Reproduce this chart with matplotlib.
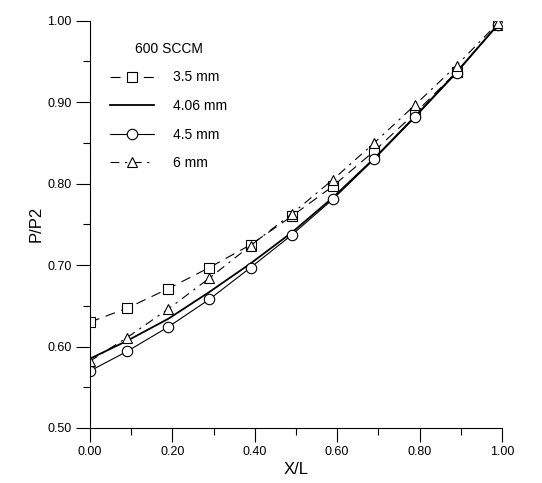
import matplotlib
matplotlib.use('Agg')
import matplotlib.pyplot as plt
from matplotlib.ticker import MultipleLocator, FormatStrFormatter

plt.rcParams['font.family'] = ['Liberation Sans', 'DejaVu Sans']

# 数据 (读取自原图)
x = [0.0, 0.09, 0.19, 0.29, 0.39, 0.49, 0.59, 0.69, 0.79, 0.89, 0.99]
p_35 = [0.630, 0.647, 0.671, 0.697, 0.725, 0.760, 0.797, 0.840, 0.887, 0.937, 0.995]
p_406 = [0.585, 0.607, 0.634, 0.667, 0.702, 0.740, 0.783, 0.831, 0.883, 0.937, 0.995]
p_45 = [0.570, 0.594, 0.624, 0.658, 0.697, 0.737, 0.781, 0.830, 0.882, 0.936, 0.995]
p_6 = [0.582, 0.611, 0.646, 0.684, 0.724, 0.763, 0.805, 0.850, 0.897, 0.945, 0.997]
labels = ['3.5 mm', '4.06 mm', '4.5 mm', '6 mm']

fig = plt.figure(figsize=(5.42, 4.83), dpi=100)
ax = fig.add_axes([0.166, 0.114, 0.76, 0.843])

mk = dict(markersize=7.5, markerfacecolor='white', markeredgecolor='black', markeredgewidth=0.8)
ax.plot(x, p_35, color='black', lw=0.8, linestyle=(0, (9, 6)), marker='s', label=labels[0], **mk)
ax.plot(x, p_406, color='black', lw=1.3, linestyle='-', label=labels[1])
ax.plot(x, p_45, color='black', lw=0.8, linestyle='-', marker='o', label=labels[2], **mk)
ax.plot(x, p_6, color='black', lw=0.8, linestyle=(0, (8, 5, 2, 5)), marker='^', label=labels[3], **mk)

ax.set_xlim(0, 1)
ax.set_ylim(0.5, 1.0)
ax.xaxis.set_major_locator(MultipleLocator(0.2))
ax.xaxis.set_minor_locator(MultipleLocator(0.1))
ax.yaxis.set_major_locator(MultipleLocator(0.1))
ax.yaxis.set_minor_locator(MultipleLocator(0.05))
ax.xaxis.set_major_formatter(FormatStrFormatter('%.2f'))
ax.yaxis.set_major_formatter(FormatStrFormatter('%.2f'))

for s in ['top', 'right']:
    ax.spines[s].set_visible(False)
for s in ['left', 'bottom']:
    ax.spines[s].set_linewidth(0.8)
ax.tick_params(which='major', direction='out', length=10, width=0.8, labelsize=9, pad=3)
ax.tick_params(which='minor', direction='out', length=5, width=0.8)
ax.set_xlabel('X/L', fontsize=12, labelpad=3)
ax.set_ylabel('P/P2', fontsize=12, labelpad=3)

leg = ax.legend(loc='upper left', bbox_to_anchor=(0.034, 0.962), frameon=False, fontsize=10,
                title='600 SCCM', title_fontsize=10, handlelength=3.2, labelspacing=1.05,
                handletextpad=1.4, borderaxespad=0)

fig.savefig('out.png', dpi=100)
